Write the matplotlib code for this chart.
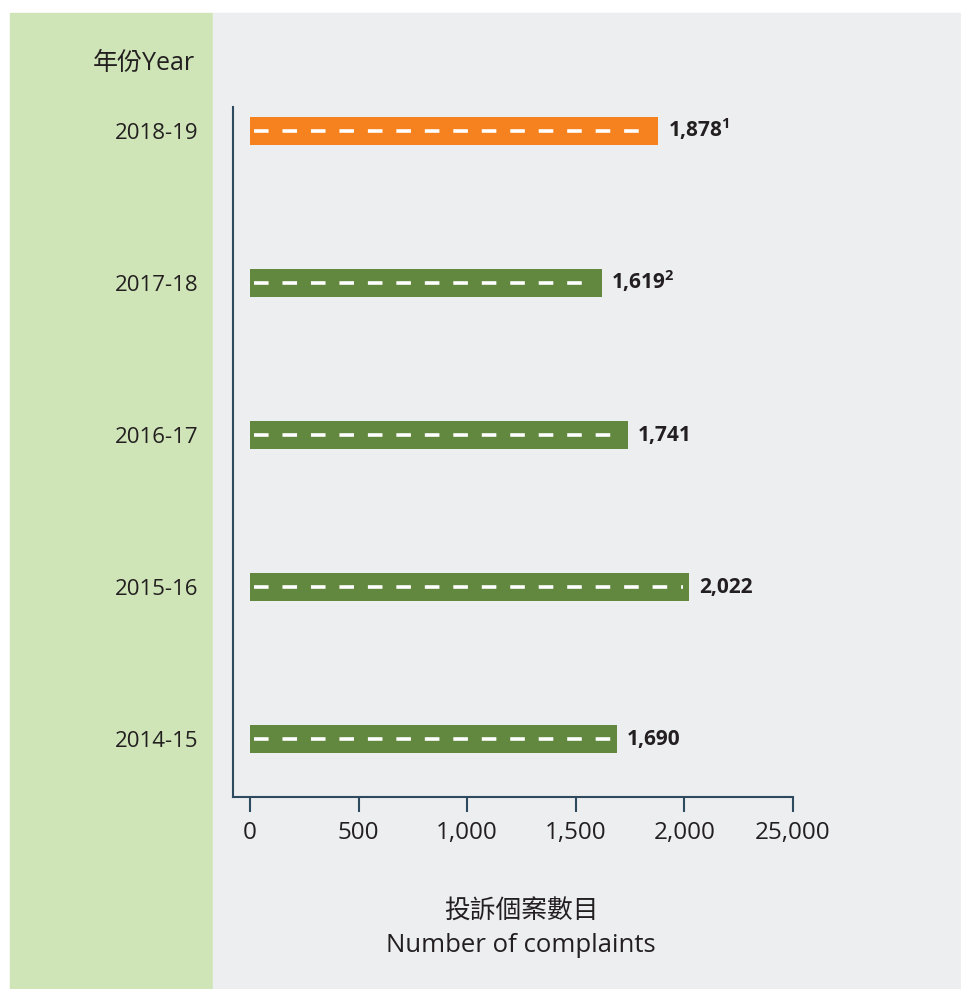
import matplotlib.pyplot as plt
from matplotlib.patches import Rectangle

# Data
years = ["2014-15", "2015-16", "2016-17", "2017-18", "2018-19"]
complaints = [1690, 2022, 1741, 1619, 1878]
value_labels = ["1,690", "2,022", "1,741", "1,619$^{\\mathbf{2}}$", "1,878$^{\\mathbf{1}}$"]
tick_values = [0, 500, 1000, 1500, 2000, 2500]
tick_labels = ["0", "500", "1,000", "1,500", "2,000", "25,000"]

green = "#62883F"
orange = "#F5821F"
axis_col = "#2E4A5E"
text_col = "#231F20"

plt.rcParams["font.family"] = ["Open Sans", "Noto Sans CJK TC", "DejaVu Sans"]
plt.rcParams["lines.scale_dashes"] = False
plt.rcParams["mathtext.fontset"] = "custom"
plt.rcParams["mathtext.rm"] = "Open Sans"
plt.rcParams["mathtext.bf"] = "Open Sans:bold"

W, H = 961, 989
fig = plt.figure(figsize=(W / 100, H / 100), dpi=100)
fig.patch.set_facecolor("white")

# background panels
fig.patches.append(Rectangle((10 / W, 0), 203 / W, 1 - 13 / H,
                             transform=fig.transFigure, color="#CFE5B8", zorder=-10))
fig.patches.append(Rectangle((213 / W, 0), 748 / W, 1 - 13 / H,
                             transform=fig.transFigure, color="#EDEEF0", zorder=-10))

ax = fig.add_axes([233 / W, 1 - 797 / H, 560 / W, 690 / H])
ax.patch.set_alpha(0)

ypos = list(range(len(years)))
colors = [green] * 4 + [orange]
ax.barh(ypos, complaints, height=0.185, left=0, color=colors, zorder=2)

# white dashes inside bars
for y, v in zip(ypos, complaints):
    ax.plot([18, v - 30], [y, y], color="white", lw=2.6,
            dashes=(10.5, 10), solid_capstyle="butt", dash_capstyle="butt", zorder=3)

# value labels (baseline aligned so the superscripts don't shift them)
for y, v, lab in zip(ypos, complaints, value_labels):
    ax.annotate(lab, (v, y), xytext=(7, -4.3), textcoords="offset points",
                va="baseline", ha="left", fontsize=15, fontweight="bold", color=text_col)

ax.set_xlim(-78, 2500)
ax.set_ylim(-0.38, 4.16)

for s in ["top", "right"]:
    ax.spines[s].set_visible(False)
for s in ["left", "bottom"]:
    ax.spines[s].set_color(axis_col)
    ax.spines[s].set_linewidth(1.5)

ax.set_xticks(tick_values)
ax.set_xticklabels(tick_labels)
ax.tick_params(axis="x", length=11, width=1.5, color=axis_col, labelsize=17.5,
               labelcolor=text_col, pad=6)
ax.set_yticks(ypos)
ax.set_yticklabels(years)
ax.tick_params(axis="y", length=0, labelsize=16, labelcolor=text_col, pad=25)

fig.text(195 / W, 1 - 63 / H, "年份Year", ha="right", va="center",
         fontsize=18, color=text_col)
fig.text(521 / W, 1 - 912 / H, "投訴個案數目", ha="center", va="center",
         fontsize=18.5, color=text_col)
fig.text(521 / W, 1 - 946 / H, "Number of complaints", ha="center", va="center",
         fontsize=18.5, color=text_col)

fig.savefig("out.png", dpi=100)
